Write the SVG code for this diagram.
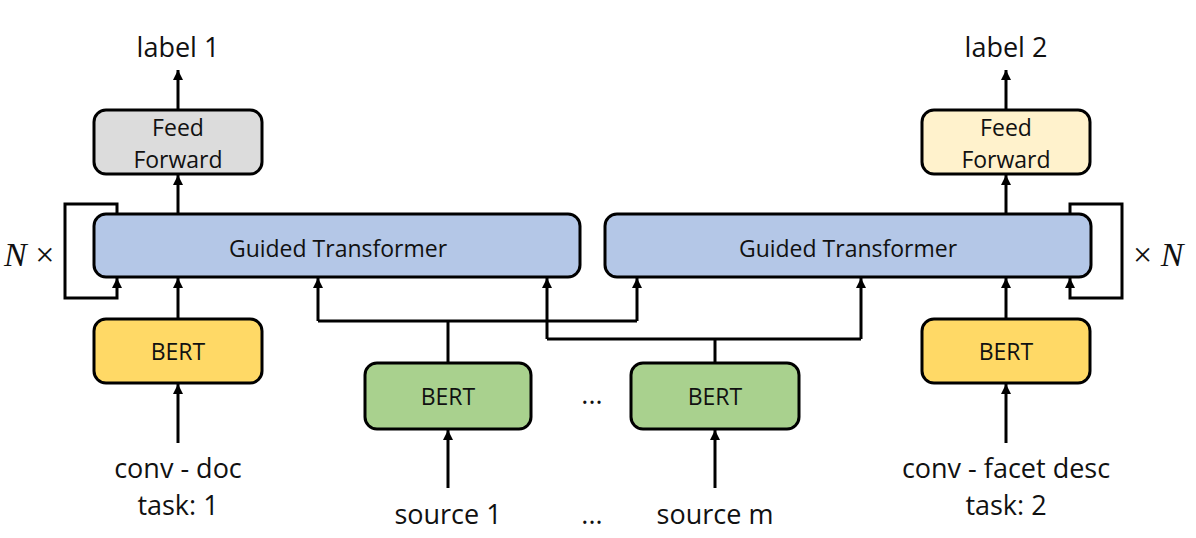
<svg xmlns="http://www.w3.org/2000/svg" width="1196" height="538" viewBox="0 0 1196 538">
<style>
.box{stroke:#000;stroke-width:3}
.t{font-family:"Open Sans","Liberation Sans",sans-serif;font-size:23px;fill:#111;text-anchor:middle}
.l{font-family:"Open Sans","Liberation Sans",sans-serif;font-size:27px;fill:#111;text-anchor:middle}
.m{font-family:"Liberation Serif",serif;font-size:34px;fill:#111}
.c{fill:none;stroke:#000;stroke-width:3}
</style>
<defs>
<marker id="ah" markerUnits="userSpaceOnUse" markerWidth="12" markerHeight="12" refX="10" refY="5" orient="auto">
<path d="M0,0 L10,5 L0,10 z" fill="#000"/>
</marker>
</defs>
<rect width="1196" height="538" fill="#fff"/>
<g id="connectors">
<path class="c" d="M178,109 V70" marker-end="url(#ah)"/>
<path class="c" d="M1006,109 V70" marker-end="url(#ah)"/>
<path class="c" d="M178,214 V175" marker-end="url(#ah)"/>
<path class="c" d="M1006,214 V175" marker-end="url(#ah)"/>
<path class="c" d="M178,319 V278" marker-end="url(#ah)"/>
<path class="c" d="M1006,319 V278" marker-end="url(#ah)"/>
<path class="c" d="M178,443 V384" marker-end="url(#ah)"/>
<path class="c" d="M1006,443 V384" marker-end="url(#ah)"/>
<path class="c" d="M448,488 V430" marker-end="url(#ah)"/>
<path class="c" d="M715,488 V430" marker-end="url(#ah)"/>
<path class="c" d="M117,214 V204 H65 V298 H117 V278" marker-end="url(#ah)"/>
<path class="c" d="M1070,214 V204 H1122 V298 H1070 V278" marker-end="url(#ah)"/>
<path class="c" d="M448,363 V321"/>
<path class="c" d="M318,321 H637"/>
<path class="c" d="M318,321 V278" marker-end="url(#ah)"/>
<path class="c" d="M637,321 V278" marker-end="url(#ah)"/>
<path class="c" d="M715,363 V339"/>
<path class="c" d="M547,339 H861"/>
<path class="c" d="M547,339 V278" marker-end="url(#ah)"/>
<path class="c" d="M861,339 V278" marker-end="url(#ah)"/>
</g>
<g id="ff1">
<rect class="box" x="94" y="110" width="168" height="64" rx="12" fill="#dcdcdc"/>
<text class="t" x="178" y="136">Feed</text>
<text class="t" x="178" y="168">Forward</text>
</g>
<g id="ff2">
<rect class="box" x="922" y="110" width="168" height="64" rx="12" fill="#fff2cc"/>
<text class="t" x="1006" y="136">Feed</text>
<text class="t" x="1006" y="168">Forward</text>
</g>
<g id="gt1">
<rect class="box" x="94" y="214" width="486" height="63" rx="12" fill="#b4c7e7"/>
<text class="t" x="338" y="257">Guided Transformer</text>
</g>
<g id="gt2">
<rect class="box" x="605" y="214" width="486" height="63" rx="12" fill="#b4c7e7"/>
<text class="t" x="848" y="257">Guided Transformer</text>
</g>
<g id="bert1">
<rect class="box" x="94" y="319" width="168" height="64" rx="12" fill="#ffd966"/>
<text class="t" x="178" y="360">BERT</text>
</g>
<g id="bert2">
<rect class="box" x="922" y="319" width="168" height="64" rx="12" fill="#ffd966"/>
<text class="t" x="1006" y="360">BERT</text>
</g>
<g id="bertS1">
<rect class="box" x="365" y="363" width="166" height="66" rx="12" fill="#a9d18e"/>
<text class="t" x="448" y="405">BERT</text>
</g>
<g id="bertSm">
<rect class="box" x="631" y="363" width="168" height="66" rx="12" fill="#a9d18e"/>
<text class="t" x="715" y="405">BERT</text>
</g>
<g id="labels">
<text class="l" x="178" y="57">label 1</text>
<text class="l" x="1006" y="57">label 2</text>
<text class="l" x="178" y="478">conv - doc</text>
<text class="l" x="178" y="515">task: 1</text>
<text class="l" x="1006" y="478">conv - facet desc</text>
<text class="l" x="1006" y="515">task: 2</text>
<text class="l" x="448" y="524">source 1</text>
<text class="l" x="715" y="524">source m</text>
<text class="l" x="592" y="404">...</text>
<text class="l" x="592" y="524">...</text>
<text class="m" x="4" y="266"><tspan font-style="italic">N</tspan> ×</text>
<text class="m" x="1133" y="266">× <tspan font-style="italic">N</tspan></text>
</g>
</svg>
